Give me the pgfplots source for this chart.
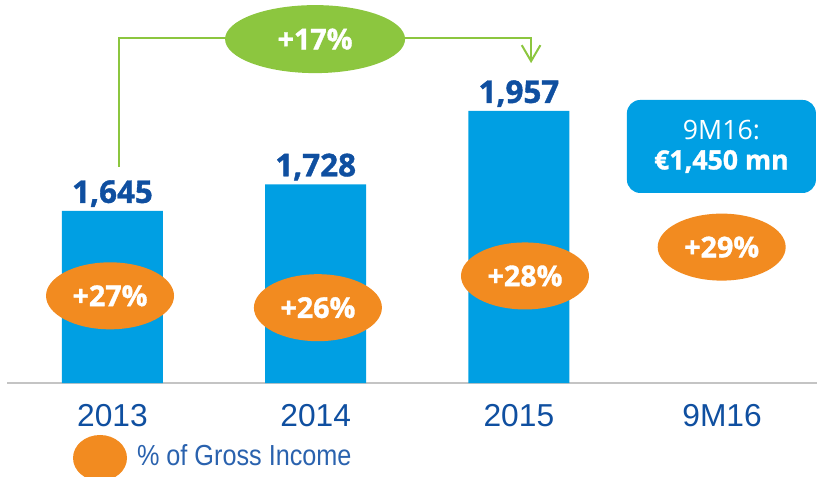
\documentclass[border=0pt]{standalone}
\usepackage{fontspec}
\usepackage{pgfplots}
\pgfplotsset{compat=1.18}
\usetikzlibrary{shapes.geometric, arrows.meta}
\setmainfont{Liberation Sans}
\newfontfamily\osans{Open Sans}
\newfontfamily\heavy{Open Sans}[BoldFeatures={FakeBold=1.2}]
\newfontfamily\legfont{Liberation Sans}[FakeStretch=0.87]
\definecolor{barblue}{HTML}{009FE3}
\definecolor{navy}{HTML}{0F4FA0}
\definecolor{orangeC}{HTML}{F28B20}
\definecolor{greenC}{HTML}{8CC63F}
\definecolor{axisgray}{HTML}{C4C4C4}
\definecolor{legblue}{HTML}{2A62AE}
\begin{document}
\begin{tikzpicture}
\useasboundingbox (-5.25pt,-69.75pt) rectangle (607.5pt,287.25pt);
\begin{axis}[
  at={(0pt,0pt)}, anchor=south west,
  scale only axis, width=607.5pt, height=287.25pt,
  xmin=-0.519, xmax=3.467, ymin=1108, ymax=2303,
  axis y line=none, axis x line*=bottom,
  axis line style={axisgray, line width=1.5pt, -},
  xtick={0,1,2,3}, xticklabels={2013,2014,2015,9M16},
  major tick length=0pt,
  xticklabel style={anchor=north, inner sep=0pt, yshift=-15.75pt,
    font=\fontsize{23.8pt}{28pt}\selectfont, text=navy},
  clip=false,
  legend style={draw=none, fill=none, inner sep=0pt, outer sep=0pt,
    at={(0.0815,-0.1958)}, anchor=west, column sep=7.5pt,
    nodes={inner sep=0pt, text=legblue, font=\legfont\fontsize{21.75pt}{26pt}\selectfont}},
]
\addplot[ybar, forget plot, bar width=75.75pt, bar shift=0pt, fill=barblue, draw=none,
  point meta=explicit symbolic, nodes near coords,
  every node near coord/.style={anchor=base, inner sep=0pt, yshift=6pt, text=navy,
    font=\heavy\bfseries\fontsize{23.5pt}{28pt}\selectfont}]
  coordinates {(0,1645) [1,645] (1,1728) [1,728] (2,1957) [1,957]};
\addplot[draw=none, mark=none, point meta=explicit symbolic, nodes near coords,
  every node near coord/.style={ellipse, fill=orangeC, minimum width=96pt,
    minimum height=50.25pt, inner sep=0pt, anchor=center, text=white,
    font=\heavy\bfseries\fontsize{21.5pt}{24pt}\selectfont},
  legend image code/.code={\fill[orangeC] (20.25pt,-1.5pt) ellipse [x radius=20.25pt, y radius=17.25pt];}]
  coordinates {(-0.012,1380) [+27\%] (1.011,1343) [+26\%] (2.03,1442) [+28\%] (2.998,1532) [+29\%]};
\addlegendentry{\% of Gross Income}
\draw[greenC, line width=1.5pt, -{Straight Barb[length=12pt, width=14pt]}]
  (axis cs:0.032,1782) |- (axis cs:2.06,2184) -- (axis cs:2.06,2106);
\node[ellipse, fill=greenC, minimum width=135pt, minimum height=51pt, inner sep=0pt,
  text=white, font=\heavy\bfseries\fontsize{21.5pt}{24pt}\selectfont]
  at (axis cs:0.997,2181) {+17\%};
\node[fill=barblue, rounded corners=10pt, minimum width=141.75pt, minimum height=69.75pt,
  align=center, text=white, inner sep=0pt, font=\osans\fontsize{20pt}{22.5pt}\selectfont]
  at (axis cs:2.9966,1846) {9M16:\\{\heavy\bfseries €1,450 mn}};
\end{axis}
\end{tikzpicture}
\end{document}
